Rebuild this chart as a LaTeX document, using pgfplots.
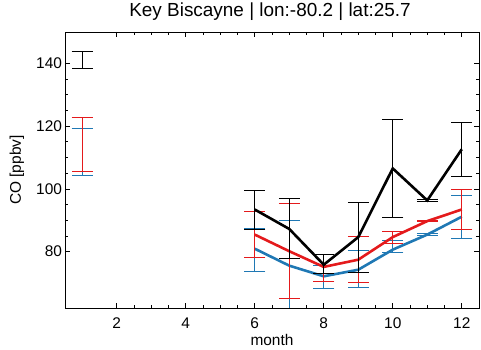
\documentclass[border=0pt]{standalone}
\usepackage{pgfplots}
\pgfplotsset{compat=1.18}
\usepackage{fontspec}
\setmainfont{Liberation Sans}
\definecolor{cred}{RGB}{228,26,28}
\definecolor{cblue}{RGB}{31,120,180}
\begin{document}
\begin{tikzpicture}
\begin{axis}[
  scale only axis, width=414bp, height=276bp,
  xmin=0.5, xmax=12.5, ymin=62, ymax=150,
  xtick={2,4,6,8,10,12}, ytick={80,100,120,140},
  minor x tick num=3, minor y tick num=3,
  tick align=inside, xtick pos=both, ytick pos=both,
  major tick length=5bp, minor tick length=2.8bp,
  tick style={black, line width=0.6pt},
  axis line style={black, line width=0.8pt},
  /pgf/number format/assume math mode=true,
  ticklabel style={font=\fontsize{15.5}{17}\selectfont},
  xticklabel style={anchor=base, yshift=-21bp},
  yticklabel style={xshift=0.5bp},
  xlabel={month}, ylabel={CO [ppbv]},
  label style={font=\fontsize{15.5}{17}\selectfont},
  xlabel style={at={(axis description cs:0.5,0)}, anchor=base, yshift=-38bp},
  ylabel style={at={(axis description cs:-0.116,0.5)}, anchor=center},
  title={Key Biscayne | lon:-80.2 | lat:25.7},
  title style={font=\fontsize{19}{21}\selectfont, at={(axis description cs:0.5,1)}, anchor=base, yshift=10bp, xshift=-2bp},
  unbounded coords=jump,
  clip=true,
]
% blue
\addplot[cblue, line width=2.6pt, mark=none,
  error bars/.cd, y dir=both, y explicit,
  error bar style={cblue, line width=0.9pt},
  error mark options={rotate=90, cblue, line width=0.9pt, mark size=10.5bp}]
  table[x=m, y=v, y error plus=ep, y error minus=em] {
m v ep em
1 111.8 7.5 7.4
2 nan 0 0
6 80.9 6.4 7.2
7 75.5 14.5 14.5
8 72.1 3.4 3.9
9 74.2 6.2 5.5
10 80.6 3.0 0.9
11 85.4 0.3 0.3
12 91.1 6.9 6.9
};
% red
\addplot[cred, line width=2.6pt, mark=none,
  error bars/.cd, y dir=both, y explicit,
  error bar style={cred, line width=0.9pt},
  error mark options={rotate=90, cred, line width=0.9pt, mark size=10.5bp}]
  table[x=m, y=v, y error plus=ep, y error minus=em] {
m v ep em
1 114.2 8.5 8.6
2 nan 0 0
6 85.4 7.5 7.2
7 80.1 15.1 15.1
8 75.1 3.9 4.6
9 77.4 7.3 7.4
10 84.6 1.9 2.0
11 89.7 0.2 0.2
12 93.4 6.3 6.4
};
% black
\addplot[black, line width=2.6pt, mark=none,
  error bars/.cd, y dir=both, y explicit,
  error bar style={black, line width=0.9pt},
  error mark options={rotate=90, black, line width=0.9pt, mark size=10.5bp}]
  table[x=m, y=v, y error plus=ep, y error minus=em] {
m v ep em
1 141.1 2.7 2.6
2 nan 0 0
6 93.4 6.2 6.4
7 87.2 9.7 9.5
8 75.8 3.2 2.8
9 84.6 10.9 11.2
10 106.5 15.7 15.7
11 96.3 0.2 0.2
12 112.6 8.4 8.7
};
\end{axis}
\pgfresetboundingbox
\path[use as bounding box] ([shift={(-65bp,-42bp)}]current axis.south west) rectangle ([shift={(2bp,32bp)}]current axis.north east);
\end{tikzpicture}
\end{document}
